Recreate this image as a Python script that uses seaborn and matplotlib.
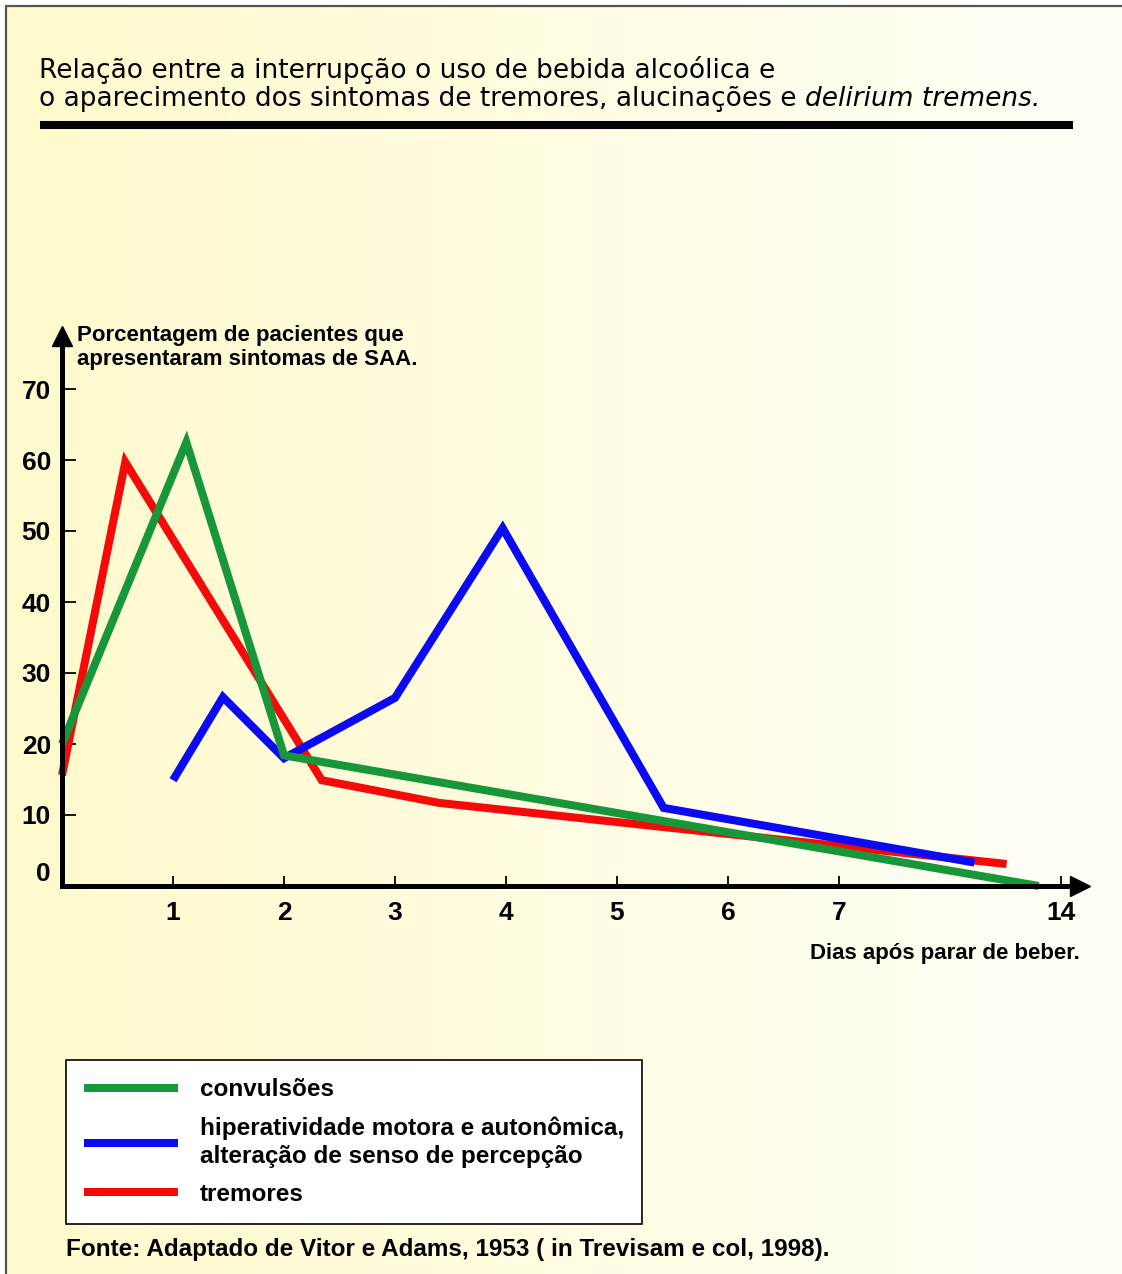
import numpy as np
import pandas as pd
import seaborn as sns
import matplotlib.pyplot as plt
from matplotlib.lines import Line2D

# x positions on the drawn axis (the last tick, "14", sits at position 9)
conv_x = [0, 1.12, 2.0, 8.8]
conv_y = [20, 62.5, 18.4, 0]
hiper_x = [1.0, 1.45, 2.0, 3.0, 3.97, 5.42, 8.22]
hiper_y = [14.9, 26.6, 18.0, 26.5, 50.4, 11.0, 3.3]
trem_x = [0, 0.57, 2.34, 3.4, 8.51]
trem_y = [15.6, 59.7, 14.9, 11.7, 3.1]

xtick_pos = [1, 2, 3, 4, 5, 6, 7, 9]
xtick_labels = ['1', '2', '3', '4', '5', '6', '7', '14']
ytick_vals = [0, 10, 20, 30, 40, 50, 60, 70]

lab_conv = 'convulsões'
lab_hiper = 'hiperatividade motora e autonômica,\nalteração de senso de percepção'
lab_trem = 'tremores'
cores = {lab_conv: '#17963a', lab_hiper: '#0a0af5', lab_trem: '#f50a0a'}

df = pd.concat([
    pd.DataFrame({'dia': conv_x, 'pct': conv_y, 'sintoma': lab_conv}),
    pd.DataFrame({'dia': hiper_x, 'pct': hiper_y, 'sintoma': lab_hiper}),
    pd.DataFrame({'dia': trem_x, 'pct': trem_y, 'sintoma': lab_trem}),
])

sns.set_style('ticks')
plt.rcParams['font.family'] = ['Liberation Sans', 'DejaVu Sans']
plt.rcParams['text.color'] = 'black'
plt.rcParams['xtick.color'] = 'black'
plt.rcParams['ytick.color'] = 'black'

W, H = 1122, 1274
fig = plt.figure(figsize=(W / 100, H / 100), dpi=100)

def fx(px):
    return px / W

def fy(py):
    return 1 - py / H

# background with soft yellow gradient and a thin frame
bg = fig.add_axes([0, 0, 1, 1], zorder=-5)
grad = np.linspace(0, 1, 256).reshape(1, -1)
c0 = np.array([255, 250, 204]) / 255
c1 = np.array([255, 255, 248]) / 255
img = c0 + (c1 - c0) * grad[..., None]
bg.imshow(img, extent=(6, W, H, 6), aspect='auto')
bg.set_xlim(0, W)
bg.set_ylim(H, 0)
bg.plot([6, 6, W], [H, 6, 6], color='#555555', lw=1.6)
bg.plot([40, 1073], [124.5, 124.5], color='black', lw=5.8, solid_capstyle='butt')
bg.axis('off')

# main axes
x0, y0 = 62, 886
pxx, pxy = 111, 7.1
xmax, ymax = 9.17, 77.5
ax = fig.add_axes([fx(x0), fy(y0), xmax * pxx / W, ymax * pxy / H])
ax.patch.set_alpha(0)

sns.lineplot(data=df, x='dia', y='pct', hue='sintoma',
             hue_order=[lab_trem, lab_hiper, lab_conv], palette=cores,
             estimator=None, lw=5.8, legend=False, ax=ax)
for ln in ax.lines:
    ln.set_solid_capstyle('butt')
    ln.set_solid_joinstyle('miter')
    ln.set_clip_on(False)

ax.set_xlim(0, xmax)
ax.set_ylim(0, ymax)
ax.set_xlabel('')
ax.set_ylabel('')
sns.despine(ax=ax)
for s in ['left', 'bottom']:
    ax.spines[s].set_linewidth(3.6)
    ax.spines[s].set_color('black')

ax.set_xticks(xtick_pos)
ax.set_xticklabels(xtick_labels)
ax.set_yticks(ytick_vals)
ax.tick_params(axis='x', direction='in', length=7.5, width=1.3, pad=11,
               labelsize=19)
ax.tick_params(axis='y', direction='in', length=10, width=1.3, pad=8,
               labelsize=19)
for t in ax.get_xticklabels() + ax.get_yticklabels():
    t.set_fontweight('bold')
ax.get_yticklabels()[0].set_va('bottom')

# arrow heads
ax.plot(1, 0, '>k', ms=14, transform=ax.transAxes, clip_on=False)
ax.plot(0, 1, '^k', ms=14, transform=ax.transAxes, clip_on=False)

# title (wider font so the width matches the reference)
tfont = ['DejaVu Sans']
fig.text(fx(39), fy(78), 'Relação entre a interrupção o uso de bebida alcoólica e',
         fontsize=19, va='baseline', family=tfont)
t2 = fig.text(fx(39), fy(106), 'o aparecimento dos sintomas de tremores, alucinações e ',
              fontsize=19, va='baseline', family=tfont)
r = fig.canvas.get_renderer()
bb = t2.get_window_extent(renderer=r)
fig.text(bb.x1 / W, fy(106), 'delirium tremens.', fontsize=19, style='italic',
         va='baseline', family=tfont)

fig.text(fx(77), fy(341), 'Porcentagem de pacientes que', fontsize=16,
         fontweight='bold', va='baseline')
fig.text(fx(77), fy(365), 'apresentaram sintomas de SAA.', fontsize=16,
         fontweight='bold', va='baseline')
fig.text(fx(1080), fy(959), 'Dias após parar de beber.', fontsize=16,
         fontweight='bold', va='baseline', ha='right')
fig.text(fx(66), fy(1256), 'Fonte: Adaptado de Vitor e Adams, 1953 ( in Trevisam e col, 1998).',
         fontsize=17.5, fontweight='bold', va='baseline')

# legend
handles = [Line2D([], [], color=cores[k], lw=5.8, solid_capstyle='butt')
           for k in [lab_conv, lab_hiper, lab_trem]]
leg = fig.legend(handles, [lab_conv, lab_hiper, lab_trem], loc='upper left',
                 bbox_to_anchor=(fx(66), fy(1060)), bbox_transform=fig.transFigure,
                 prop={'weight': 'bold', 'size': 17.5}, handlelength=3.85,
                 handletextpad=0.9, borderpad=0.75, labelspacing=0.63,
                 fancybox=False, frameon=True, borderaxespad=0)
leg.get_frame().set_edgecolor('black')
leg.get_frame().set_linewidth(1.2)
leg.get_frame().set_facecolor('white')
leg.get_frame().set_alpha(1)
for t in leg.get_texts():
    t.set_linespacing(1.25)

fig.savefig('out.png', dpi=100)
